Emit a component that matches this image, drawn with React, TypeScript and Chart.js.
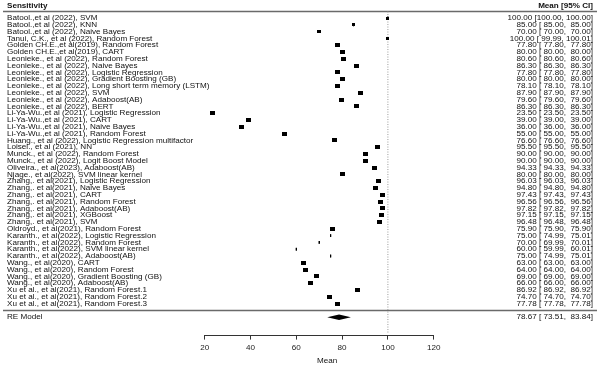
import React, { useEffect, useRef } from "react";
import { Chart, registerables } from "chart.js";

Chart.register(...registerables);

const studies: string[] = [
  "Batool.,et al (2022), SVM",
  "Batool.,et al (2022), KNN",
  "Batool.,et al (2022), Naive Bayes",
  "Tanui, C.K., et al (2022), Random Forest",
  "Golden CH.E.,et al(2019), Random Forest",
  "Golden CH.E.,et al(2019), CART",
  "Leonieke., et al (2022), Random Forest",
  "Leonieke., et al (2022), Naive Bayes",
  "Leonieke., et al (2022), Logistic Regression",
  "Leonieke., et al (2022), Gradient Boosting (GB)",
  "Leonieke., et al (2022), Long short term memory (LSTM)",
  "Leonieke., et al (2022), SVM",
  "Leonieke., et al (2022), Adaboost(AB)",
  "Leonieke., et al (2022), BERT",
  "Li-Ya-Wu.,et al (2021), Logistic Regression",
  "Li-Ya-Wu.,et al (2021), CART",
  "Li-Ya-Wu.,et al (2021), Naive Bayes",
  "Li-Ya-Wu.,et al (2021), Random Forest",
  "Huang., et al (2022), Logistic Regression multifactor",
  "Loisel., et al (2021), NN",
  "Munck., et al (2022), Random Forest",
  "Munck., et al (2022), Logit Boost Model",
  "Oliveira., et al(2023), Adaboost(AB)",
  "Njage., et al(2022), SVM linear kernel",
  "Zhang,. et al(2021), Logistic Regression",
  "Zhang,. et al(2021), Naive Bayes",
  "Zhang,. et al(2021), CART",
  "Zhang,. et al(2021), Random Forest",
  "Zhang,. et al(2021), Adaboost(AB)",
  "Zhang,. et al(2021), XGBoost",
  "Zhang,. et al(2021), SVM",
  "Oldroyd., et al(2021), Random Forest",
  "Karanth., et al(2022), Logistic Regression",
  "Karanth., et al(2022), Random Forest",
  "Karanth., et al(2022), SVM linear kernel",
  "Karanth., et al(2022), Adaboost(AB)",
  "Wang., et al(2020), CART",
  "Wang., et al(2020), Random Forest",
  "Wang., et al(2020), Gradient Boosting (GB)",
  "Wang., et al(2020), Adaboost(AB)",
  "Xu et al., et al(2021), Random Forest.1",
  "Xu et al., et al(2021), Random Forest.2",
  "Xu et al., et al(2021), Random Forest.3",
];

const means: number[] = [
  100.0, 85.0, 70.0, 100.0, 77.8, 80.0, 80.6, 86.3, 77.8, 80.0, 78.1, 87.9,
  79.6, 86.3, 23.5, 39.0, 36.0, 55.0, 76.6, 95.5, 90.0, 90.0, 94.33, 80.0,
  96.03, 94.8, 97.43, 96.56, 97.82, 97.15, 96.48, 75.9, 75.0, 70.0, 60.0,
  75.0, 63.0, 64.0, 69.0, 66.0, 86.92, 74.7, 77.78,
];

const lowers: number[] = [
  100.0, 85.0, 70.0, 99.99, 77.8, 80.0, 80.6, 86.3, 77.8, 80.0, 78.1, 87.9,
  79.6, 86.3, 23.5, 39.0, 36.0, 55.0, 76.6, 95.5, 90.0, 90.0, 94.33, 80.0,
  96.03, 94.8, 97.43, 96.56, 97.82, 97.15, 96.48, 75.9, 74.99, 69.99, 59.99,
  74.99, 63.0, 64.0, 69.0, 66.0, 86.92, 74.7, 77.78,
];

const uppers: number[] = [
  100.0, 85.0, 70.0, 100.01, 77.8, 80.0, 80.6, 86.3, 77.8, 80.0, 78.1, 87.9,
  79.6, 86.3, 23.5, 39.0, 36.0, 55.0, 76.6, 95.5, 90.0, 90.0, 94.33, 80.0,
  96.03, 94.8, 97.43, 96.56, 97.82, 97.15, 96.48, 75.9, 75.01, 70.01, 60.01,
  75.01, 63.0, 64.0, 69.0, 66.0, 86.92, 74.7, 77.78,
];

// relative study weights (marker size)
const weights: number[] = [
  0.6, 0.65, 0.75, 0.6, 1, 1, 1, 1, 1, 1, 1, 1, 1, 1, 1, 1, 1, 1, 1, 1, 1, 1,
  1, 1, 1, 1, 1, 1, 1, 1, 1, 1, 0.25, 0.25, 0.25, 0.25, 1, 1, 1, 1, 1, 1, 1,
];

const xTicks: number[] = [20, 40, 60, 80, 100, 120];
const summaryLabel = "RE Model";
const summaryMean = 78.67;
const summaryLower = 73.51;
const summaryUpper = 83.84;
const refValue = 100;
const headerLeft = "Sensitivity";
const headerRight = "Mean [95% CI]";
const xTitle = "Mean";

const FONT = "'Liberation Sans', Arial, Helvetica, sans-serif";
const FS = 8.1;

function pad(v: number): string {
  const s = v.toFixed(2);
  return s.length < 6 ? " ".repeat(6 - s.length) + s : s;
}
function annot(m: number, l: number, u: number): string {
  return `${pad(m)} [${pad(l)}, ${pad(u)}]`;
}

function makeMarker(w: number): HTMLCanvasElement {
  const c = document.createElement("canvas");
  const width = Math.max(1, Math.round(5.3 * w));
  const height = Math.max(2, Math.round(3.9 * Math.sqrt(w)));
  c.width = width;
  c.height = height;
  const g = c.getContext("2d")!;
  g.fillStyle = "#000";
  g.fillRect(0, 0, width, height);
  return c;
}

const forestPlugin = {
  id: "forestPlot",
  beforeDatasetsDraw(chart: any) {
    const { ctx, chartArea } = chart;
    const xs = chart.scales.x;
    const ys = chart.scales.y;
    const n = studies.length;
    ctx.save();
    const yHead = ys.getPixelForValue(0.05);
    ctx.strokeStyle = "#6a6a6a";
    ctx.lineWidth = 1.4;
    ctx.beginPath();
    ctx.moveTo(3, yHead);
    ctx.lineTo(597, yHead);
    ctx.stroke();
    const ySep = ys.getPixelForValue(n + 1);
    ctx.beginPath();
    ctx.moveTo(3, ySep);
    ctx.lineTo(597, ySep);
    ctx.stroke();
    const xr = xs.getPixelForValue(refValue);
    ctx.strokeStyle = "#999";
    ctx.lineWidth = 1;
    ctx.setLineDash([1, 1.5]);
    ctx.beginPath();
    ctx.moveTo(xr, yHead);
    ctx.lineTo(xr, chartArea.bottom - 2);
    ctx.stroke();
    ctx.setLineDash([]);
    ctx.strokeStyle = "#000";
    ctx.lineWidth = 1;
    for (let i = 0; i < n; i++) {
      const yy = ys.getPixelForValue(i + 1);
      const x1 = xs.getPixelForValue(lowers[i]);
      const x2 = xs.getPixelForValue(uppers[i]);
      ctx.beginPath();
      ctx.moveTo(x1, yy);
      ctx.lineTo(x2, yy);
      ctx.moveTo(x1, yy - 1.4);
      ctx.lineTo(x1, yy + 1.4);
      ctx.moveTo(x2, yy - 1.4);
      ctx.lineTo(x2, yy + 1.4);
      ctx.stroke();
    }
    ctx.restore();
  },
  afterDatasetsDraw(chart: any) {
    const { ctx } = chart;
    const xs = chart.scales.x;
    const ys = chart.scales.y;
    const n = studies.length;
    ctx.save();
    const yRE = ys.getPixelForValue(n + 2);
    const halfH = ys.getPixelForValue(n + 2.4) - yRE;
    ctx.fillStyle = "#000";
    ctx.beginPath();
    ctx.moveTo(xs.getPixelForValue(summaryLower), yRE);
    ctx.lineTo(xs.getPixelForValue(summaryMean), yRE - halfH);
    ctx.lineTo(xs.getPixelForValue(summaryUpper), yRE);
    ctx.lineTo(xs.getPixelForValue(summaryMean), yRE + halfH);
    ctx.closePath();
    ctx.fill();

    ctx.fillStyle = "#111";
    ctx.textBaseline = "middle";
    const yHeadText = ys.getPixelForValue(-0.85);
    ctx.font = `bold ${FS}px ${FONT}`;
    ctx.textAlign = "left";
    ctx.fillText(headerLeft, 7, yHeadText);
    ctx.textAlign = "right";
    ctx.fillText(headerRight, 593, yHeadText);

    ctx.font = `${FS}px ${FONT}`;
    for (let i = 0; i < n; i++) {
      const yy = ys.getPixelForValue(i + 1);
      ctx.textAlign = "left";
      ctx.fillText(studies[i], 7, yy);
      ctx.textAlign = "right";
      ctx.fillText(annot(means[i], lowers[i], uppers[i]), 593, yy);
    }
    ctx.textAlign = "left";
    ctx.fillText(summaryLabel, 7, yRE);
    ctx.textAlign = "right";
    ctx.fillText(annot(summaryMean, summaryLower, summaryUpper), 593, yRE);

    ctx.textAlign = "center";
    ctx.fillText(xTitle, (xs.left + xs.right) / 2 + 8, 361);
    ctx.restore();
  },
};

export default function App() {
  const ref = useRef<HTMLCanvasElement>(null);
  useEffect(() => {
    document.body.style.margin = "0";
    const markers = weights.map((w) => makeMarker(w));
    const chart = new Chart(ref.current!, {
      type: "scatter",
      data: {
        datasets: [
          {
            data: means.map((m, i) => ({ x: m, y: i + 1 })),
            pointStyle: markers as any,
            pointRadius: 3,
            pointHoverRadius: 3,
            backgroundColor: "#000",
            borderColor: "#000",
          },
        ],
      },
      options: {
        responsive: false,
        animation: false,
        events: [],
        layout: { padding: { left: 204.7, right: 166.3, top: 11.2, bottom: 0 } },
        plugins: { legend: { display: false }, tooltip: { enabled: false } },
        scales: {
          x: {
            type: "linear",
            min: 20,
            max: 120,
            afterBuildTicks: (scale: any) => {
              scale.ticks = xTicks.map((v) => ({ value: v }));
            },
            afterFit: (scale: any) => {
              scale.height = 30.4;
            },
            ticks: {
              font: { family: FONT, size: 8.1 },
              color: "#222",
              padding: 3,
              maxRotation: 0,
              autoSkip: false,
            },
            grid: {
              drawOnChartArea: false,
              drawTicks: true,
              tickLength: 4,
              color: "#333",
            },
            border: { display: true, color: "#333" },
          },
          y: {
            type: "linear",
            display: false,
            reverse: true,
            min: 0,
            max: 47.7,
          },
        },
      },
      plugins: [forestPlugin],
    });
    return () => chart.destroy();
  }, []);
  return (
    <div style={{ width: 600, height: 366 }}>
      <canvas ref={ref} width={600} height={366} style={{ display: "block", width: 600, height: 366 }} />
    </div>
  );
}
